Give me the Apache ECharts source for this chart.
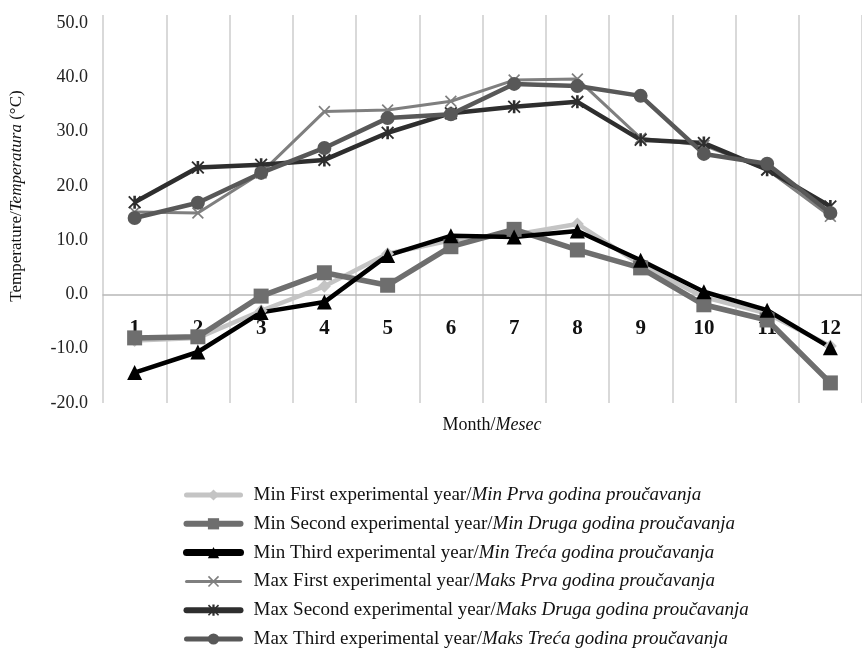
<!DOCTYPE html>
<html>
<head>
<meta charset="utf-8">
<script src="https://cdn.jsdelivr.net/npm/echarts@6/dist/echarts.min.js"></script>
<style>
html,body{margin:0;padding:0;background:#fff;}
#chart{width:862px;height:650px;}
</style>
</head>
<body>
<div id="chart"></div>
<script>
// ---- data ----
var months = ['1','2','3','4','5','6','7','8','9','10','11','12'];
var yTicks = [-20, -10, 0, 10, 20, 30, 40, 50];

var namesEn = [
  'Min First experimental year',
  'Min Second experimental year',
  'Min Third experimental year',
  'Max First experimental year',
  'Max Second experimental year',
  'Max Third experimental year'
];
var namesSr = [
  'Min Prva godina proučavanja',
  'Min Druga godina proučavanja',
  'Min Treća godina proučavanja',
  'Maks Prva godina proučavanja',
  'Maks Druga godina proučavanja',
  'Maks Treća godina proučavanja'
];

var minFirst  = [-8.5, -8.0, -3.0, 1.5, 7.5, 10.0, 11.0, 13.0, 5.5, -0.5, -3.5, -9.5];
var minSecond = [-8.0, -7.8, -0.3, 4.0, 1.7, 8.8, 12.0, 8.2, 4.9, -1.9, -4.7, -16.3];
var minThird  = [-14.4, -10.6, -3.3, -1.4, 7.2, 10.8, 10.6, 11.7, 6.3, 0.5, -2.9, -9.8];
var maxFirst  = [15.2, 15.0, 22.4, 33.7, 34.0, 35.6, 39.5, 39.7, 28.8, 27.5, 23.0, 14.4];
var maxSecond = [17.0, 23.4, 23.9, 24.8, 29.8, 33.4, 34.6, 35.5, 28.5, 27.9, 23.0, 16.2];
var maxThird  = [14.1, 16.9, 22.4, 27.0, 32.5, 33.2, 38.8, 38.4, 36.6, 25.9, 24.1, 15.0];

// ---- styling ----
var FONT = 'Liberation Serif, Times New Roman, serif';
var Y_MIN = -20, Y_MAX = 51.5;
var GRID_TOP = 15, GRID_H = 388;
var xMark = 'path://M0,1L1,0L5,4L9,0L10,1L6,5L10,9L9,10L5,6L1,10L0,9L4,5Z';
var starMark = 'path://M0,1L1,0L5,4L9,0L10,1L6,5L10,9L9,10L5,6L1,10L0,9L4,5ZM4,0L6,0L6,10L4,10Z';

var seriesData = [minFirst, minSecond, minThird, maxFirst, maxSecond, maxThird];
var colors  = ['#c4c4c4', '#6e6e6e', '#000000', '#7f7f7f', '#2e2e2e', '#585858'];
var widths  = [4.5, 5.5, 4.5, 3, 4.5, 4.5];
var legendWidths = [5, 6, 7, 3, 6, 5];
var symbols = ['diamond', 'rect', 'triangle', xMark, starMark, 'circle'];
var sizes   = [13, 15, 15, 12, 13, 14];

var series = seriesData.map(function (d, i) {
  return {
    name: namesEn[i] + '/' + namesSr[i],
    type: 'line',
    data: d,
    symbol: symbols[i],
    symbolSize: sizes[i],
    showAllSymbol: true,
    color: colors[i],
    lineStyle: { color: colors[i], width: widths[i] },
    itemStyle: { color: colors[i] },
    emphasis: { disabled: true },
    animation: false
  };
});

var legendData = series.map(function (s, i) {
  return { name: s.name, lineStyle: { color: colors[i], width: legendWidths[i], cap: 'round' } };
});

// distance from grid bottom up to the zero line
var zeroOffset = -GRID_H * (0 - Y_MIN) / (Y_MAX - Y_MIN);

var chart = echarts.init(document.getElementById('chart'), null, { renderer: 'canvas' });
chart.setOption({
  backgroundColor: '#ffffff',
  animation: false,
  grid: { left: 103, top: GRID_TOP, width: 768, height: GRID_H, containLabel: false },
  xAxis: {
    type: 'category',
    data: months,
    boundaryGap: true,
    position: 'bottom',
    offset: zeroOffset,
    axisLine: { show: true, onZero: false, lineStyle: { color: '#b8b8b8', width: 1.5 } },
    axisTick: { show: false },
    axisLabel: {
      interval: 0,
      margin: 24,
      fontFamily: FONT,
      fontWeight: 'bold',
      fontSize: 21,
      color: '#111'
    },
    splitLine: { show: true, interval: 0, lineStyle: { color: '#cccccc', width: 1.5 } }
  },
  yAxis: {
    type: 'value',
    min: Y_MIN,
    max: Y_MAX,
    interval: 10,
    axisLine: { show: false },
    axisTick: { show: false },
    splitLine: { show: false },
    axisLabel: {
      showMaxLabel: false,
      margin: 15,
      fontFamily: FONT,
      fontSize: 18,
      color: '#222',
      formatter: function (v) { return yTicks.indexOf(v) >= 0 ? v.toFixed(1) : ''; }
    }
  },
  legend: {
    orient: 'vertical',
    left: 183,
    top: 485,
    height: 190,
    padding: 0,
    itemWidth: 54,
    itemHeight: 14,
    itemGap: 8.8,
    selectedMode: false,
    data: legendData,
    formatter: function (name) {
      var p = name.split('/');
      return '{a|' + p[0] + '/}{b|' + p[1] + '}';
    },
    textStyle: {
      fontFamily: FONT,
      fontSize: 19,
      color: '#111',
      lineHeight: 20,
      padding: [0, 0, 0, 8],
      rich: {
        a: { fontFamily: FONT, fontSize: 19, color: '#111', lineHeight: 20 },
        b: { fontFamily: FONT, fontSize: 19, color: '#111', fontStyle: 'italic', lineHeight: 20 }
      }
    }
  },
  graphic: [
    {
      type: 'text',
      x: 17,
      y: 196,
      rotation: Math.PI / 2,
      style: {
        text: '{a|Temperature/}{b|Temperatura}{a| (°C)}',
        align: 'center',
        verticalAlign: 'middle',
        fill: '#111',
        fontFamily: FONT,
        fontSize: 17,
        rich: {
          a: { fontFamily: FONT, fontSize: 17, fill: '#111', color: '#111' },
          b: { fontFamily: FONT, fontSize: 17, fill: '#111', color: '#111', fontStyle: 'italic' }
        }
      }
    },
    {
      type: 'text',
      x: 492,
      y: 425,
      style: {
        text: '{a|Month/}{b|Mesec}',
        align: 'center',
        verticalAlign: 'middle',
        fill: '#111',
        fontFamily: FONT,
        fontSize: 18,
        rich: {
          a: { fontFamily: FONT, fontSize: 18, fill: '#111', color: '#111' },
          b: { fontFamily: FONT, fontSize: 18, fill: '#111', color: '#111', fontStyle: 'italic' }
        }
      }
    }
  ],
  series: series
});
</script>
</body>
</html>
